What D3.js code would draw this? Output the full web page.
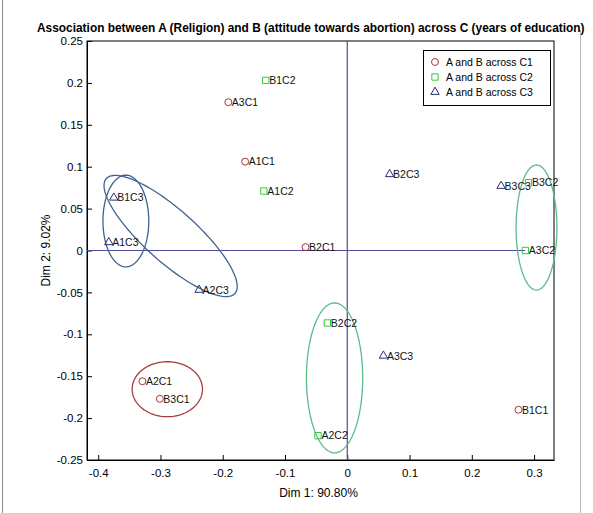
<!DOCTYPE html>
<html>
<head>
<meta charset="utf-8">
<script src="https://cdn.jsdelivr.net/npm/d3@7"></script>
<style>
  html, body { margin: 0; padding: 0; background: #fff; }
  svg { display: block; }
  text { font-family: "Liberation Sans", Arial, sans-serif; }
</style>
</head>
<body>
<svg id="chart" width="593" height="513"></svg>
<script>
// Correspondence analysis map: A (religion) x B (attitude towards abortion) across C (years of education)
const titleText = "Association between A (Religion) and B (attitude towards abortion) across C (years of education)";
const xLabel = "Dim 1: 90.80%";
const yLabel = "Dim 2: 9.02%";

const xTicks = [-0.4, -0.3, -0.2, -0.1, 0, 0.1, 0.2, 0.3];
const yTicks = [0.25, 0.2, 0.15, 0.1, 0.05, 0, -0.05, -0.1, -0.15, -0.2, -0.25];
const xTickLabels = ["-0.4", "-0.3", "-0.2", "-0.1", "0", "0.1", "0.2", "0.3"];
const yTickLabels = ["0.25", "0.2", "0.15", "0.1", "0.05", "0", "-0.05", "-0.1", "-0.15", "-0.2", "-0.25"];

const seriesNames = ["A and B across C1", "A and B across C2", "A and B across C3"];

// C1 (circles)
const c1Labels = ["A1C1", "A2C1", "A3C1", "B1C1", "B2C1", "B3C1"];
const c1X = [-0.164, -0.329, -0.191, 0.275, -0.067, -0.301];
const c1Y = [0.106, -0.156, 0.177, -0.19, 0.004, -0.177];

// C2 (squares)
const c2Labels = ["A1C2", "A2C2", "A3C2", "B1C2", "B2C2", "B3C2"];
const c2X = [-0.134, -0.047, 0.286, -0.131, -0.032, 0.291];
const c2Y = [0.071, -0.221, 0.0, 0.203, -0.0865, 0.081];

// C3 (triangles)
const c3Labels = ["A1C3", "A2C3", "A3C3", "B1C3", "B2C3", "B3C3"];
const c3X = [-0.383, -0.238, 0.058, -0.375, 0.068, 0.247];
const c3Y = [0.0098, -0.047, -0.1256, 0.063, 0.091, 0.077];

// Grouping ellipses: centre and two semi-axis vectors, in data units
const ellCx = [-0.289, -0.3556, -0.2837, 0.3039, -0.0204];
const ellCy = [-0.1655, 0.0352, 0.0173, 0.0274, -0.152];
const ellUx = [0.0565, 0.0368, 0.1032, 0.0328, 0.0452];
const ellUy = [0, 0, -0.0686, 0, 0];
const ellVx = [0, 0, -0.0281, 0, 0];
const ellVy = [0.0328, 0.0547, -0.0230, 0.0746, 0.0895];
const ellGroup = [0, 2, 2, 1, 1];

// Zero reference lines
const hLineX = [-0.418, 0.286];
const vLineY = [-0.25, 0.25];

const xDomain = [-0.418, 0.332];
const yDomain = [-0.25, 0.25];

const markerColors = ["#a83232", "#33cc33", "#2b2b72"];
const ellipseColors = ["#a83c3c", "#5dbb8a", "#41628e"];

const svg = d3.select("#chart");
const W = 593, H = 513;
const plot = { left: 87, right: 554, top: 41, bottom: 460 };

const x = d3.scaleLinear().domain(xDomain).range([plot.left, plot.right]);
const y = d3.scaleLinear().domain(yDomain).range([plot.bottom, plot.top]);

// figure frame
svg.append("line").attr("x1", 2.5).attr("x2", 2.5).attr("y1", 0).attr("y2", H)
  .attr("stroke", "#888").attr("stroke-width", 1);
svg.append("line").attr("x1", 580.5).attr("x2", 580.5).attr("y1", 30).attr("y2", H)
  .attr("stroke", "#bbb").attr("stroke-width", 1);

// title: bold, horizontally condensed to fit the figure width
const titleWidth = 548;
const title = svg.append("text")
  .attr("font-size", 13).attr("font-weight", "bold")
  .attr("fill", "#000")
  .text(titleText);
const natural = title.node().getComputedTextLength();
title.attr("transform", `translate(37,32) scale(${titleWidth / natural},1)`);

// plot background and box
svg.append("rect")
  .attr("x", plot.left).attr("y", plot.top)
  .attr("width", plot.right - plot.left).attr("height", plot.bottom - plot.top)
  .attr("fill", "#fff").attr("stroke", "#000").attr("stroke-width", 1);

// axes (ticks pointing inward)
const xAxis = d3.axisBottom(x).tickValues(xTicks)
  .tickFormat((d, i) => xTickLabels[i]).tickSizeInner(-5).tickSizeOuter(0).tickPadding(9);
const yAxis = d3.axisLeft(y).tickValues(yTicks)
  .tickFormat((d, i) => yTickLabels[i]).tickSizeInner(-5).tickSizeOuter(0).tickPadding(4);

const gx = svg.append("g").attr("transform", `translate(0,${plot.bottom})`).call(xAxis);
const gy = svg.append("g").attr("transform", `translate(${plot.left},0)`).call(yAxis);
[gx, gy].forEach(g => {
  g.select(".domain").attr("stroke", "#000");
  g.selectAll(".tick line").attr("stroke", "#000");
  g.selectAll(".tick text").attr("font-size", 11.5).attr("fill", "#000")
    .attr("font-family", "'Liberation Sans', Arial, sans-serif");
});

// axis titles
svg.append("text")
  .attr("x", (plot.left + plot.right) / 2 - 2).attr("y", 497)
  .attr("text-anchor", "middle").attr("font-size", 12).attr("fill", "#000")
  .text(xLabel);
svg.append("text")
  .attr("transform", `translate(50,${(plot.top + plot.bottom) / 2}) rotate(-90)`)
  .attr("text-anchor", "middle").attr("font-size", 12).attr("fill", "#000")
  .text(yLabel);

// zero lines
const refColor = "#4e4e96";
svg.append("line")
  .attr("x1", x(hLineX[0])).attr("x2", x(hLineX[1]))
  .attr("y1", y(0)).attr("y2", y(0))
  .attr("stroke", refColor).attr("stroke-width", 1.2);
svg.append("line")
  .attr("x1", x(0)).attr("x2", x(0))
  .attr("y1", y(vLineY[0])).attr("y2", y(vLineY[1]))
  .attr("stroke", refColor).attr("stroke-width", 1.2);

// ellipses
const angles = d3.range(0, 361, 3).map(a => a * Math.PI / 180);
const ellLine = d3.line().curve(d3.curveLinearClosed);
ellCx.forEach((cx, i) => {
  const pts = angles.map(t => [
    x(cx + ellUx[i] * Math.cos(t) + ellVx[i] * Math.sin(t)),
    y(ellCy[i] + ellUy[i] * Math.cos(t) + ellVy[i] * Math.sin(t))
  ]);
  svg.append("path").attr("d", ellLine(pts))
    .attr("fill", "none").attr("stroke", ellipseColors[ellGroup[i]]).attr("stroke-width", 1.3);
});

// markers
const symbols = [d3.symbolCircle, d3.symbolSquare, d3.symbolTriangle];
const symSizes = [38, 40, 30];
const groups = [
  { labels: c1Labels, xs: c1X, ys: c1Y },
  { labels: c2Labels, xs: c2X, ys: c2Y },
  { labels: c3Labels, xs: c3X, ys: c3Y }
];
groups.forEach((g, gi) => {
  const sym = d3.symbol().type(symbols[gi]).size(symSizes[gi]);
  g.labels.forEach((lab, i) => {
    const px = x(g.xs[i]), py = y(g.ys[i]);
    svg.append("path").attr("d", sym())
      .attr("transform", `translate(${px},${py})`)
      .attr("fill", "none").attr("stroke", markerColors[gi]).attr("stroke-width", 1);
    svg.append("text")
      .attr("x", px + 3.5).attr("y", py).attr("dy", "0.36em")
      .attr("font-size", 10.5).attr("fill", "#111")
      .text(lab);
  });
});

// legend
const lg = svg.append("g");
lg.append("rect").attr("x", 423.5).attr("y", 50.5).attr("width", 127).attr("height", 55)
  .attr("fill", "#fff").attr("stroke", "#000").attr("stroke-width", 1);
seriesNames.forEach((name, i) => {
  const ly = 62 + i * 15;
  const sym = d3.symbol().type(symbols[i]).size(symSizes[i]);
  lg.append("path").attr("d", sym()).attr("transform", `translate(435,${ly})`)
    .attr("fill", "none").attr("stroke", markerColors[i]).attr("stroke-width", 1);
  lg.append("text").attr("x", 446).attr("y", ly).attr("dy", "0.36em")
    .attr("font-size", 10.5).attr("fill", "#000").text(name);
});
</script>
</body>
</html>
